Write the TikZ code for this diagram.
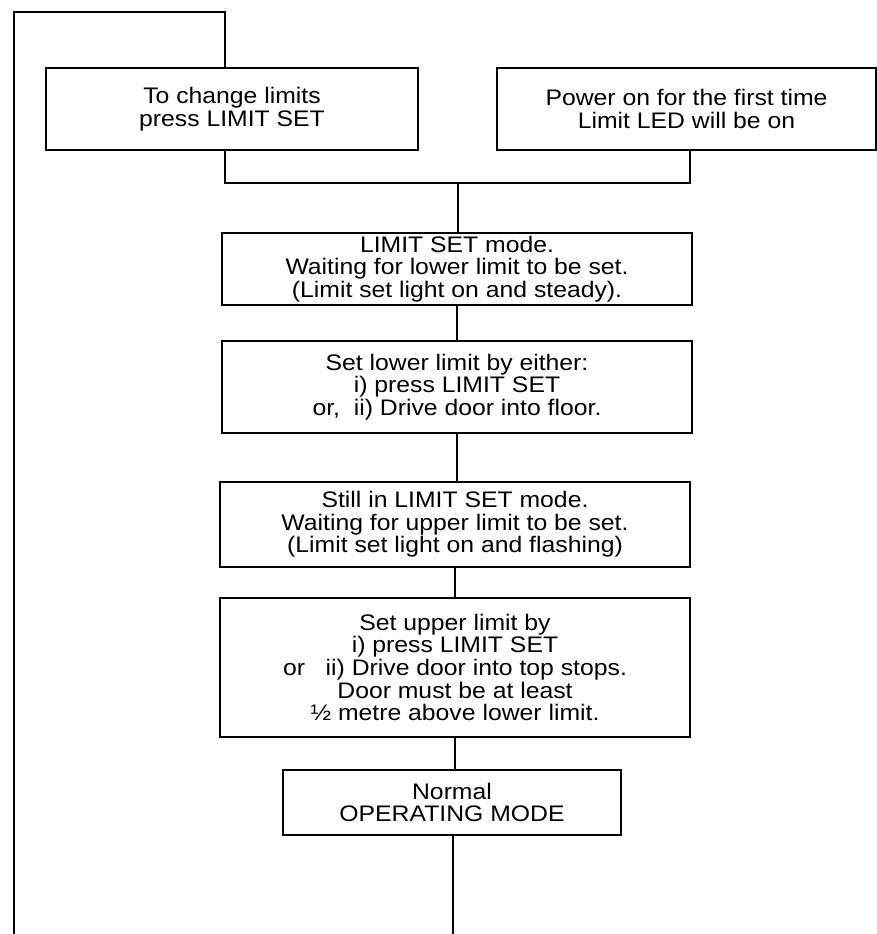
\documentclass[tikz,border=0pt]{standalone}
\usepackage{fontspec}
\setmainfont{Liberation Sans}[FakeStretch=1.1]
\begin{document}
\begin{tikzpicture}[x=1pt,y=1pt,
  line width=1.6pt,
  box/.style={draw, rectangle, inner sep=0pt, align=center,
    font=\fontsize{22.5}{22.6}\selectfont},
]
\useasboundingbox (0,0) rectangle (877,-934);
\node[box, minimum width=372, minimum height=82] (b1) at (232,-109)
  {To change limits\\press LIMIT SET};
\node[box, minimum width=379, minimum height=82] (b2) at (686.5,-109)
  {Power on for the first time\\Limit LED will be on};
\node[box, minimum width=470, minimum height=72] (b3) at (457,-269)
  {LIMIT SET mode.\\Waiting for lower limit to be set.\\(Limit set light on and steady).};
\node[box, minimum width=470, minimum height=92] (b4) at (457,-387)
  {Set lower limit by either:\\i) press LIMIT SET\\or,\ \ ii) Drive door into floor.};
\node[box, minimum width=470, minimum height=85] (b5) at (455,-524.5)
  {Still in LIMIT SET mode.\\Waiting for upper limit to be set.\\(Limit set light on and flashing)};
\node[box, minimum width=470, minimum height=139] (b6) at (455,-667.5)
  {Set upper limit by\\i) press LIMIT SET\\or\ \ \ ii) Drive door into top stops.\\Door must be at least\\½ metre above lower limit.};
\node[box, minimum width=338, minimum height=65] (b7) at (452,-802.5)
  {Normal\\OPERATING MODE};
% connectors
\coordinate (lx) at (225,0);
\coordinate (rx) at (690,0);
\coordinate (jn) at (458,-183);
\coordinate (ltop) at (14,-12);
\coordinate (lbot) at (14,-934);
\coordinate (ebot) at (453,-934);
\draw (b1.south -| lx) |- (jn) -| (b2.south -| rx);
\draw (jn) -- (b3.north -| jn);
\draw (b3.south) -- (b3.south |- b4.north);
\draw (b4.south) -- (b4.south |- b5.north);
\draw (b5.south) -- (b5.south |- b6.north);
\draw (b6.south) -- (b6.south |- b7.north);
\draw (b7.south -| ebot) -- (ebot);
\draw (lbot) -- (ltop) -| (b1.north -| lx);
\end{tikzpicture}
\end{document}
